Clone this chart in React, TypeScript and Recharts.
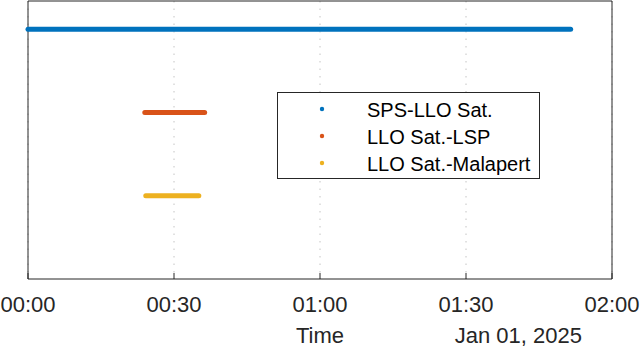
import { CartesianGrid, Label, Legend, Line, LineChart, ReferenceArea, XAxis, YAxis } from 'recharts';

document.body.style.margin = '0';

const AXIS = '#262626';
const FONT = '"Liberation Sans", Arial, Helvetica, sans-serif';
const Y_TOP = 3.34;

// x in minutes after 00:00 on Jan 01, 2025
const ticks = [0, 30, 60, 90, 120];
const tickLabels = ['00:00', '00:30', '01:00', '01:30', '02:00'];

// each link: visible from start to end, drawn on its own row
const spsLlo = [{ t: 0, y: 3 }, { t: 111.5, y: 3 }];
const lloLsp = [{ t: 24.0, y: 2 }, { t: 36.3, y: 2 }];
const lloMalapert = [{ t: 24.2, y: 1 }, { t: 35.1, y: 1 }];

const seriesNames = ['SPS-LLO Sat.', 'LLO Sat.-LSP', 'LLO Sat.-Malapert'];
const seriesColors = ['#0072BD', '#D95319', '#EDB120'];

function BottomTick(props: any) {
  const { x, y, payload } = props;
  const label = tickLabels[ticks.indexOf(payload.value)];
  return (
    <g>
      <line x1={x} x2={x} y1={y} y2={y - 6} stroke={AXIS} />
      <text x={x} y={y + 33} textAnchor="middle" fontSize={22} fontFamily={FONT} fill={AXIS}>
        {label}
      </text>
    </g>
  );
}

function TopTick(props: any) {
  const { x, y } = props;
  return <line x1={x} x2={x} y1={y} y2={y + 6} stroke={AXIS} />;
}

// keep plotting order, recharts sorts legend items by name otherwise
function LegendBox(props: any) {
  const items = [...(props.payload ?? [])].sort(
    (a: any, b: any) => seriesNames.indexOf(a.value) - seriesNames.indexOf(b.value),
  );
  return (
    <svg width={263} height={87} style={{ display: 'block' }}>
      <rect x={0.5} y={0.5} width={262} height={86} fill="#fff" stroke={AXIS} />
      {items.map((item: any, i: number) => (
        <g key={item.value}>
          <circle cx={45} cy={17 + i * 27} r={2.2} fill={item.color} />
          <text x={90} y={25 + i * 27} fontSize={20} fontFamily={FONT} fill="#000">
            {item.value}
          </text>
        </g>
      ))}
    </svg>
  );
}

export default function App() {
  return (
    <LineChart
      width={640}
      height={347}
      margin={{ top: 1, right: 28, left: 28, bottom: 0 }}
      style={{ fontFamily: FONT }}
    >
      <CartesianGrid horizontal={false} stroke="#c4c4c4" strokeDasharray="1.5 6" />
      <XAxis
        type="number"
        dataKey="t"
        domain={[0, 120]}
        ticks={ticks}
        interval={0}
        height={68}
        axisLine={false}
        tickLine={false}
        tickSize={0}
        tickMargin={0}
        tick={<BottomTick />}
      >
        <Label value="Time" position="insideBottom" offset={4} fontSize={22} fill={AXIS} />
        <Label
          content={({ viewBox }: any) => (
            <text
              x={viewBox.x + viewBox.width - 30}
              y={viewBox.y + viewBox.height - 4}
              textAnchor="end"
              fontSize={22}
              fontFamily={FONT}
              fill={AXIS}
            >
              Jan 01, 2025
            </text>
          )}
        />
      </XAxis>
      <XAxis
        xAxisId="top"
        orientation="top"
        type="number"
        dataKey="t"
        domain={[0, 120]}
        ticks={ticks}
        interval={0}
        height={0}
        axisLine={false}
        tickLine={false}
        tickSize={0}
        tickMargin={0}
        tick={<TopTick />}
      />
      <YAxis type="number" dataKey="y" domain={[0, Y_TOP]} hide />
      <Line
        data={spsLlo}
        dataKey="y"
        name={seriesNames[0]}
        stroke={seriesColors[0]}
        strokeWidth={5}
        strokeLinecap="round"
        dot={false}
        isAnimationActive={false}
      />
      <Line
        data={lloLsp}
        dataKey="y"
        name={seriesNames[1]}
        stroke={seriesColors[1]}
        strokeWidth={5}
        strokeLinecap="round"
        dot={false}
        isAnimationActive={false}
      />
      <Line
        data={lloMalapert}
        dataKey="y"
        name={seriesNames[2]}
        stroke={seriesColors[2]}
        strokeWidth={5}
        strokeLinecap="round"
        dot={false}
        isAnimationActive={false}
      />
      <ReferenceArea x1={0} x2={120} y1={0} y2={Y_TOP} fill="none" stroke={AXIS} strokeWidth={1} />
      <Legend
        layout="vertical"
        align="center"
        verticalAlign="middle"
        content={<LegendBox />}
        wrapperStyle={{ left: 277, top: 92, width: 263, height: 87 }}
      />
    </LineChart>
  );
}
